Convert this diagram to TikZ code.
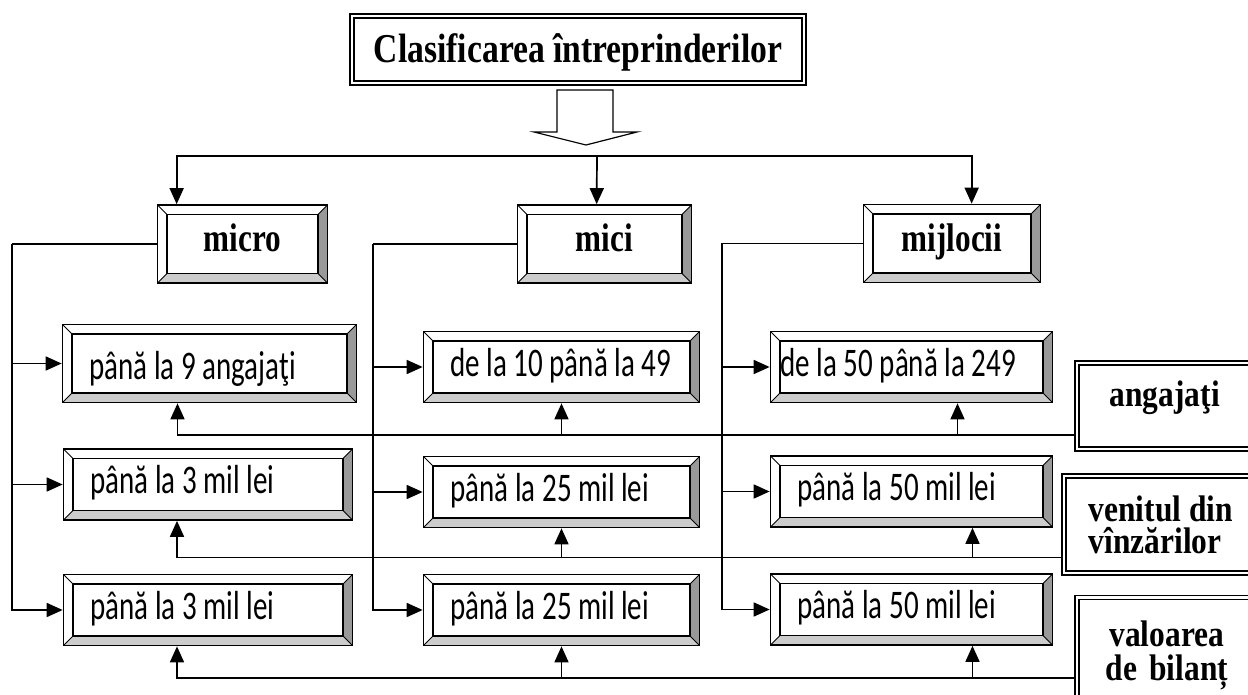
\documentclass[tikz,border=0pt]{standalone}
\usepackage{fontspec}
\setmainfont{Liberation Serif}
\newfontfamily\titlefont[FakeStretch=0.82]{Liberation Serif}
\newfontfamily\headfont[FakeStretch=0.78]{Liberation Serif}
\newfontfamily\sidefont[FakeStretch=0.85]{Liberation Serif}
\newfontfamily\boxfont{Carlito}
\newcommand\serifgap{\spaceskip=8pt\relax}
\newcommand\tallrow[1]{\scalebox{1}[1.4]{#1}}
\usetikzlibrary{arrows.meta}
\definecolor{bevlight}{gray}{0.8}
\definecolor{bevdark}{gray}{0.6}

\begin{document}
\begin{tikzpicture}[x=1pt, y=-1pt, line width=1.7pt,
    arr/.style={-{Triangle[length=16pt,width=14pt]}},
    bevel/.style={draw, fill=white, inner sep=0pt, path picture={
        \path (path picture bounding box.south west) coordinate (sw)
              (path picture bounding box.south east) coordinate (se)
              (path picture bounding box.north east) coordinate (ne)
              (path picture bounding box.north west) coordinate (nw);
        \fill[bevlight] (sw) -- (se) -- ([shift={(-9.5pt,9.5pt)}]se) -- ([shift={(9.5pt,9.5pt)}]sw) -- cycle;
        \fill[bevdark] (se) -- (ne) -- ([shift={(-9.5pt,-9.5pt)}]ne) -- ([shift={(-9.5pt,9.5pt)}]se) -- cycle;
        \draw ([shift={(9.5pt,9.5pt)}]sw) rectangle ([shift={(-9.5pt,-9.5pt)}]ne);
        \draw[line width=0.9pt] (sw) -- ++(9.5pt,9.5pt) (se) -- ++(-9.5pt,9.5pt)
              (ne) -- ++(-9.5pt,-9.5pt) (nw) -- ++(9.5pt,-9.5pt);
    }},
    head/.style={bevel, minimum width=#1, minimum height=78pt, text height=24pt, text depth=8pt,
        font=\headfont\bfseries\fontsize{40}{42}\selectfont},
    row/.style={bevel, text width=#1, align=flush left, inner xsep=27pt, minimum height=71pt,
        text height=26pt, text depth=8pt, font=\boxfont\fontsize{29}{31}\selectfont},
    rbox/.style={draw, double, double distance=2.4pt, line width=1.6pt, fill=white,
        anchor=west, inner xsep=28pt,
        font=\sidefont\bfseries\fontsize{37}{32}\selectfont\serifgap}]

\useasboundingbox (0,0) rectangle (1248,695);
\clip (0,0) rectangle (1248,695);

% title and big arrow
\node[draw, double, double distance=2.4pt, line width=1.6pt, minimum width=452pt, minimum height=67pt,
      text height=30pt, text depth=4pt,
      font=\titlefont\bfseries\fontsize{41}{43}\selectfont\serifgap] (title) at (578,49.5) {Clasificarea întreprinderilor};
\draw[line width=1.2pt] (557,90) -- (613,90) -- (613,132) -- (637,132) -- (586,145)
      -- (534,132) -- (557,132) -- cycle;

% categories
\node[head=170pt] (micro) at (242.5,244) {micro};
\node[head=174pt] (mici) at (604.5,244) {mici};
\node[head=177pt] (mijl) at (952,243.5) {mijlocii};

% criteria boxes
\node[row=240pt, minimum height=78pt, text height=40pt] (a1) at (209.5,363.5) {\tallrow{până la 9 angajaţi}};
\node[row=222pt] (b1) at (561.5,367) {\tallrow{de la 10 până la 49}};
\node[row=262pt, inner xsep=10pt] (c1) at (911.5,367) {\tallrow{de la 50 până la 249}};
\node[row=235pt] (a2) at (208,484.5) {\tallrow{până la 3 mil lei}};
\node[row=222pt] (b2) at (561.5,492) {\tallrow{până la 25 mil lei}};
\node[row=228pt] (c2) at (911.5,491.5) {\tallrow{până la 50 mil lei}};
\node[row=235pt] (a3) at (208,610) {\tallrow{până la 3 mil lei}};
\node[row=222pt] (b3) at (561.5,610) {\tallrow{până la 25 mil lei}};
\node[row=228pt] (c3) at (911.5,609.5) {\tallrow{până la 50 mil lei}};

% indicators on the right
\node[rbox, text width=120pt, align=center, minimum height=86pt, text height=20pt, text depth=20pt] (ang) at (1076,406) {angajaţi};
\node[rbox, text width=150pt, align=flush left, inner xsep=25pt, minimum height=97pt] (ven) at (1063,524.5) {venitul din\\vînzărilor};
\node[rbox, text width=140pt, align=center, inner xsep=20pt, minimum height=115pt] (val) at (1076,655) {valoarea\\[2pt]de bilanț};

% tree from the big arrow
\coordinate (bus) at (597,156);
\draw[arr] (bus) -| ([xshift=20pt]micro.north west);
\draw[arr] (bus) -- ([xshift=80pt]mici.north west);
\draw[arr] (bus) -| ([xshift=109pt]mijl.north west);

% rails to the criteria
\draw (micro.west) -- ++(-145,0) coordinate (ra);
\draw (mici.west) -- ++(-144,0) coordinate (rb);
\draw (mijl.west) -- ++(-141,0) coordinate (rc);
\foreach \n in {a1,a2,a3} \draw[arr] (ra) |- (\n.west);
\foreach \n in {b1,b2,b3} \draw[arr] (rb) |- (\n.west);
\foreach \n in {c1,c2,c3} \draw[arr] (rc) |- (\n.west);

% lines back from the indicators
\coordinate (fa) at ([yshift=-29pt]ang.west);
\coordinate (fb) at ([yshift=-33pt]ven.west);
\coordinate (fc) at ([yshift=-23pt]val.west);
\coordinate (c1t) at ([xshift=46pt]c1.south);
\coordinate (c2t) at ([xshift=61pt]c2.south);
\coordinate (c3t) at ([xshift=61pt]c3.south);

\draw[arr] (fa) -| ([xshift=-32pt]a1.south);
\draw[arr] (b1.south |- fa) -- (b1.south);
\draw[arr] (c1t |- fa) -- (c1t);

\draw[arr] (fb) -| ([xshift=-31pt]a2.south);
\draw[arr] (b2.south |- fb) -- (b2.south);
\draw[arr] (c2t |- fb) -- (c2t);

\draw[arr] (fc) -| ([xshift=-31pt]a3.south);
\draw[arr] (b3.south |- fc) -- (b3.south);
\draw[arr] (c3t |- fc) -- (c3t);
\end{tikzpicture}
\end{document}
